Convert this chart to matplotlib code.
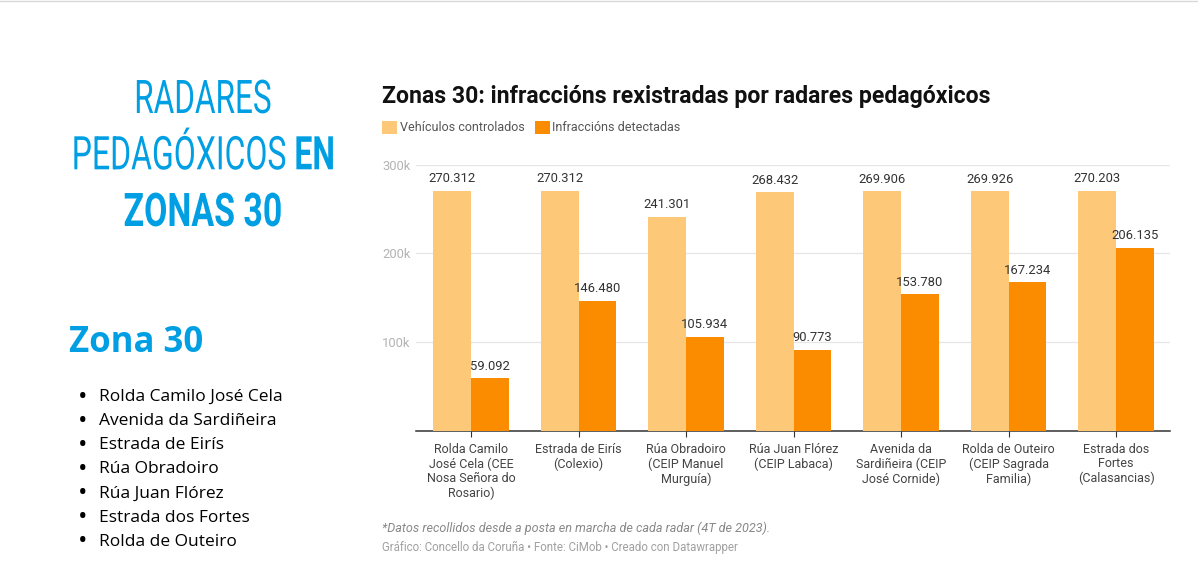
import matplotlib
matplotlib.use('Agg')
import matplotlib.pyplot as plt
import matplotlib.patheffects as pe
from matplotlib.transforms import Affine2D
import numpy as np

W, H = 1198, 568

# datos do grafico
categorias = ['Rolda Camilo\nJosé Cela (CEE\nNosa Señora do\nRosario)', 'Estrada de Eirís\n(Colexio)',
              'Rúa Obradoiro\n(CEIP Manuel\nMurguía)', 'Rúa Juan Flórez\n(CEIP Labaca)',
              'Avenida da\nSardiñeira (CEIP\nJosé Cornide)', 'Rolda de Outeiro\n(CEIP Sagrada\nFamilia)',
              'Estrada dos\nFortes\n(Calasancias)']
vehiculos = [270312, 270312, 241301, 268432, 269906, 269926, 270203]
infraccions = [59092, 146480, 105934, 90773, 153780, 167234, 206135]
y_ticks = [100000, 200000, 300000]
y_labels = ['100k', '200k', '300k']
zonas = ['Rolda Camilo José Cela', 'Avenida da Sardiñeira', 'Estrada de Eirís', 'Rúa Obradoiro',
         'Rúa Juan Flórez', 'Estrada dos Fortes', 'Rolda de Outeiro']

AZUL = '#009fe3'
CLARO = '#fdc877'
LARANXA = '#fb8c00'

plt.rcParams['mathtext.fontset'] = 'custom'
plt.rcParams['mathtext.rm'] = 'Roboto'
plt.rcParams['mathtext.bf'] = 'Roboto:bold'


class Estreitar(pe.AbstractPathEffect):
    # non hai fonte condensada instalada: estreita o texto arredor de x0
    def __init__(self, x0, sx, dx=0):
        super().__init__()
        self.x0 = x0
        self.sx = sx
        self.dx = dx

    def draw_path(self, renderer, gc, tpath, affine, rgbFace=None):
        aff = affine + Affine2D().translate(-self.x0, 0).scale(self.sx, 1).translate(self.x0 + self.dx, 0)
        renderer.draw_path(gc, tpath, aff, rgbFace)


def px(x, y):
    # pixeles da imaxe a coordenadas da figura
    return x / W, 1 - y / H


def texto(x, y, s, **kw):
    fx, fy = px(x, y)
    return fig.text(fx, fy, s, **kw)


fig = plt.figure(figsize=(W / 100, H / 100), dpi=100, facecolor='white')

# eixo do grafico: x 416-1170, y 164.5-430.5
ax = fig.add_axes([416 / W, 1 - 430.5 / H, (1170 - 416) / W, (430.5 - 164.5) / H])
x = np.arange(len(categorias))
ancho = 0.35
b1 = ax.bar(x - ancho / 2, vehiculos, ancho, color=CLARO, label='Vehículos controlados', zorder=3)
b2 = ax.bar(x + ancho / 2, infraccions, ancho, color=LARANXA, label='Infraccións detectadas', zorder=3)

ax.set_xlim(-0.512, 6.502)
ax.set_ylim(0, 300000)
for barras, valores in ((b1, vehiculos), (b2, infraccions)):
    ax.bar_label(barras, labels=[f'{v:,}'.replace(',', '.') for v in valores], padding=4,
                 fontsize=9.4, color='#333333', family='Roboto', zorder=4)

ax.set_yticks(y_ticks)
ax.set_yticklabels(y_labels, fontsize=9.4, color='#b3b3b3', family='Roboto')
ax.tick_params(axis='y', length=0, pad=4)
ax.grid(axis='y', color='#e6e6e6', lw=0.9, zorder=0)
ax.set_axisbelow(True)
ax.set_xticks(x)
ax.set_xticklabels(categorias, fontsize=9, color='#444444', family='Roboto', linespacing=1.13)
ax.tick_params(axis='x', length=4, width=0.8, color='#333333', pad=5)

for lado in ['top', 'right', 'left']:
    ax.spines[lado].set_visible(False)
ax.spines['bottom'].set_color('#333333')
ax.spines['bottom'].set_linewidth(1.1)

leg_x, leg_y = px(382, 127.5)
fig.legend(loc='center left', bbox_to_anchor=(leg_x, leg_y), ncol=2, frameon=False,
           prop={'family': 'Roboto', 'size': 9}, labelcolor='#555555', handlelength=1.2,
           handleheight=1.2, handletextpad=0.2, columnspacing=0.85, borderpad=0, borderaxespad=0)

# textos do grafico
texto(382, 96.5, 'Zonas 30: infraccións rexistradas por radares pedagóxicos', fontsize=16.6,
      fontweight='bold', family='Roboto', color='#111111', va='center')
texto(382, 528, '*Datos recollidos desde a posta en marcha de cada radar (4T de 2023).', fontsize=9.13,
      style='italic', family='Roboto', color='#888888', va='center')
texto(382, 547.5, 'Gráfico: Concello da Coruña • Fonte: CiMob • Creado con Datawrapper', fontsize=8.3,
      family='Roboto', color='#a0a0a0', va='center')

# columna esquerda
texto(203, 113, 'RADARES', fontsize=33.4, family='Roboto', color=AZUL, ha='center', va='baseline',
      path_effects=[Estreitar(203, 0.68)])
texto(188, 169.3, r'PEDAGÓXICOS $\mathbf{EN}$', fontsize=33.4, family='Roboto', color=AZUL, ha='center',
      va='baseline', path_effects=[Estreitar(188, 0.69, 15)])
texto(203, 226, 'ZONAS 30', fontsize=33.4, family='Roboto', fontweight='bold', color=AZUL, ha='center',
      va='baseline', path_effects=[Estreitar(203, 0.73)])

texto(69, 343, 'Zona 30', fontsize=25, family='Open Sans', fontweight='bold', color=AZUL, va='center')
for i, z in enumerate(zonas):
    yy = 397 + i * 24.15
    texto(83, yy, '•', fontsize=18, family='Open Sans', color='black', va='center', ha='center')
    texto(99, yy, z, fontsize=12.5, family='Open Sans', color='black', va='center')

# liña gris arriba
fig.add_artist(plt.Line2D([0, 1], [1 - 0.5 / H, 1 - 0.5 / H], color='#d9d9d9', lw=1))

fig.savefig('out.png', dpi=100)
plt.close()
